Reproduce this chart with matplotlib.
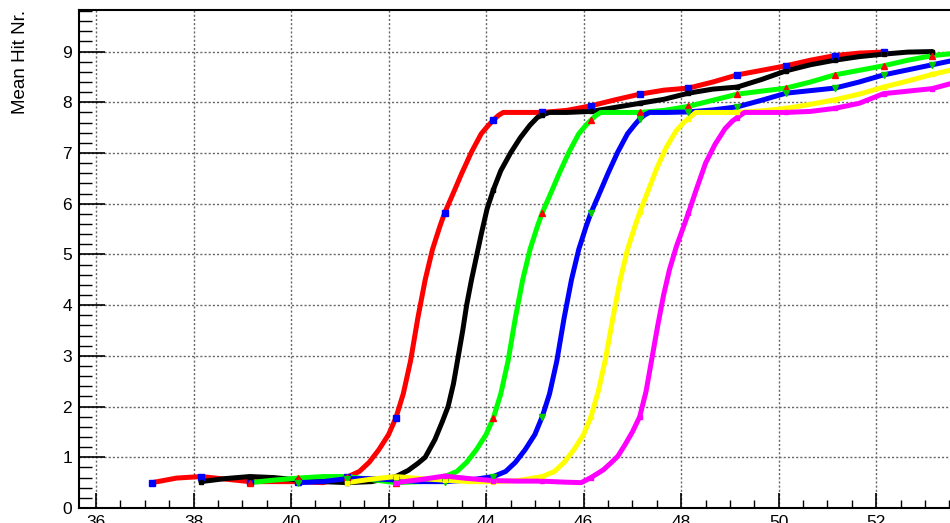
import numpy as np
import matplotlib
matplotlib.use("Agg")
import matplotlib.pyplot as plt
from matplotlib.ticker import MultipleLocator

plt.rcParams['font.family'] = ['Liberation Sans', 'DejaVu Sans']

# --- curve data (x, mean hit number) ---
red_x = [37.15, 37.65, 38.15, 38.65, 39.15, 39.65, 40.15, 40.65, 41.15, 41.4, 41.6, 41.8,
         42.0, 42.15, 42.3, 42.45, 42.6, 42.75, 42.9, 43.05, 43.15, 43.3, 43.5, 43.7,
         43.9, 44.05, 44.15, 44.25, 44.35, 44.7, 45.15, 45.65, 46.15, 46.65, 47.15, 47.65,
         48.15, 48.65, 49.15, 49.65, 50.15, 50.65, 51.15, 51.65, 52.15]
red_y = [0.50, 0.59, 0.62, 0.57, 0.52, 0.52, 0.52, 0.50, 0.61, 0.72, 0.90, 1.15,
         1.45, 1.78, 2.25, 2.9, 3.75, 4.5, 5.1, 5.55, 5.82, 6.15, 6.6, 7.02,
         7.38, 7.55, 7.65, 7.74, 7.8, 7.8, 7.8, 7.84, 7.93, 8.05, 8.16, 8.24,
         8.28, 8.4, 8.54, 8.63, 8.72, 8.83, 8.92, 8.97, 8.99]

black_x = [38.15, 38.65, 39.15, 39.65, 40.15, 40.65, 41.15, 41.65, 42.15, 42.4, 42.6, 42.75,
           42.95, 43.1, 43.22, 43.33, 43.43, 43.52, 43.6, 43.7, 43.8, 43.9, 44.02, 44.15,
           44.3, 44.5, 44.7, 44.9, 45.05, 45.15, 45.3, 45.65, 46.15, 46.65, 47.15, 47.65,
           48.15, 48.65, 49.15, 49.65, 50.15, 50.65, 51.15, 51.65, 52.15, 52.65, 53.15]
black_y = [0.52, 0.58, 0.62, 0.60, 0.55, 0.52, 0.50, 0.52, 0.62, 0.74, 0.88, 1.0,
           1.35, 1.7, 2.0, 2.45, 3.0, 3.5, 4.0, 4.5, 4.95, 5.4, 5.9, 6.28,
           6.65, 7.0, 7.3, 7.55, 7.7, 7.75, 7.8, 7.8, 7.82, 7.9, 7.98, 8.06,
           8.18, 8.26, 8.3, 8.45, 8.62, 8.74, 8.83, 8.9, 8.95, 8.99, 9.0]

green_x = [39.15, 39.65, 40.15, 40.65, 41.15, 41.65, 42.15, 42.65, 43.15, 43.4, 43.6, 43.8,
           44.0, 44.15, 44.3, 44.45, 44.6, 44.75, 44.9, 45.05, 45.15, 45.3, 45.5, 45.7,
           45.9, 46.05, 46.15, 46.25, 46.35, 46.7, 47.15, 47.65, 48.15, 48.65, 49.15, 49.65,
           50.15, 50.65, 51.15, 51.65, 52.15, 52.65, 53.15, 53.65, 54.15]
green_y = [0.50, 0.55, 0.59, 0.62, 0.62, 0.56, 0.50, 0.52, 0.62, 0.72, 0.90, 1.15,
           1.45, 1.78, 2.25, 2.9, 3.75, 4.5, 5.1, 5.55, 5.82, 6.15, 6.6, 7.02,
           7.38, 7.55, 7.65, 7.74, 7.8, 7.8, 7.8, 7.84, 7.92, 8.04, 8.16, 8.22,
           8.28, 8.4, 8.54, 8.63, 8.72, 8.83, 8.92, 8.97, 8.99]

blue_x = [40.15, 40.65, 41.15, 41.65, 42.15, 42.65, 43.15, 43.65, 44.15, 44.4, 44.6, 44.8,
          45.0, 45.15, 45.3, 45.45, 45.6, 45.75, 45.9, 46.05, 46.15, 46.3, 46.5, 46.7,
          46.9, 47.05, 47.15, 47.25, 47.35, 47.7, 48.15, 48.65, 49.15, 49.65, 50.15, 50.65,
          51.15, 51.65, 52.15, 52.65, 53.15, 53.65]
blue_y = [0.50, 0.52, 0.58, 0.58, 0.55, 0.52, 0.52, 0.55, 0.62, 0.72, 0.90, 1.15,
          1.45, 1.8, 2.25, 2.9, 3.75, 4.5, 5.1, 5.55, 5.82, 6.15, 6.6, 7.02,
          7.38, 7.56, 7.67, 7.75, 7.8, 7.8, 7.81, 7.85, 7.91, 8.04, 8.18, 8.23,
          8.28, 8.4, 8.54, 8.64, 8.74, 8.84]

yellow_x = [41.15, 41.65, 42.15, 42.65, 43.15, 43.65, 44.15, 44.65, 45.15, 45.4, 45.6, 45.8,
            46.0, 46.15, 46.3, 46.45, 46.6, 46.75, 46.9, 47.05, 47.15, 47.3, 47.5, 47.7,
            47.9, 48.05, 48.15, 48.3, 48.7, 49.15, 49.65, 50.15, 50.65, 51.15, 51.65, 52.15,
            52.65, 53.15, 53.65]
yellow_y = [0.50, 0.57, 0.62, 0.58, 0.55, 0.52, 0.52, 0.54, 0.62, 0.72, 0.90, 1.15,
            1.45, 1.8, 2.3, 2.95, 3.75, 4.5, 5.1, 5.55, 5.83, 6.2, 6.7, 7.12,
            7.44, 7.6, 7.68, 7.8, 7.8, 7.8, 7.83, 7.88, 7.96, 8.05, 8.16, 8.3,
            8.42, 8.55, 8.66]

magenta_x = [42.15, 42.65, 43.15, 43.65, 44.15, 44.65, 45.15, 45.6, 45.95, 46.15, 46.4, 46.55,
             46.7, 46.85, 47.0, 47.15, 47.28, 47.4, 47.52, 47.64, 47.76, 47.9, 48.05, 48.15,
             48.3, 48.5, 48.7, 48.9, 49.05, 49.15, 49.3, 49.7, 50.15, 50.65, 51.15, 51.65,
             52.15, 52.65, 53.15, 53.65]
magenta_y = [0.50, 0.56, 0.63, 0.58, 0.54, 0.53, 0.53, 0.51, 0.50, 0.60, 0.75, 0.88,
             1.02, 1.25, 1.5, 1.8, 2.3, 2.95, 3.6, 4.2, 4.7, 5.15, 5.55, 5.82,
             6.25, 6.8, 7.18, 7.48, 7.63, 7.7, 7.8, 7.8, 7.8, 7.82, 7.88, 7.98,
             8.17, 8.22, 8.27, 8.4]

curves = [
    (red_x, red_y, "red", "s", "blue", 4.5),
    (black_x, black_y, "black", "s", "black", 3.0),
    (green_x, green_y, "#00ff00", "^", "red", 4.5),
    (blue_x, blue_y, "blue", "v", "#00cc00", 4.5),
    (yellow_x, yellow_y, "yellow", "s", "yellow", 3.0),
    (magenta_x, magenta_y, "magenta", "s", "magenta", 3.0),
]

fig = plt.figure(figsize=(9.5, 5.23), dpi=100)
ax = fig.add_axes([79 / 950, 15 / 523, 0.93, 498 / 523])

for x, y, col, mk, mcol, ms in curves:
    ax.plot(x, y, color=col, lw=3.6, solid_capstyle="round",
            solid_joinstyle="round", zorder=3)

# markers on the whole-step points of every curve
for x, y, col, mk, mcol, ms in curves:
    x = np.array(x)
    y = np.array(y)
    on_step = np.isclose(np.mod(x - x[0] + 0.5, 1.0), 0.5, atol=0.03)
    ax.plot(x[on_step], y[on_step], ls="none", marker=mk, ms=ms,
            mfc=mcol, mec=mcol, zorder=4)

ax.set_xlim(35.65, 53.77)
ax.set_ylim(0, 9.82)

ax.xaxis.set_major_locator(MultipleLocator(2))
ax.xaxis.set_minor_locator(MultipleLocator(0.5))
ax.yaxis.set_major_locator(MultipleLocator(1))
ax.yaxis.set_minor_locator(MultipleLocator(0.2))

ax.tick_params(axis="both", which="both", direction="in", labelsize=12.5, color="black")
ax.tick_params(axis="y", which="major", length=19, width=1.2, pad=5)
ax.tick_params(axis="y", which="minor", length=9.5, width=1.0)
ax.tick_params(axis="x", which="major", length=11, width=1.2, pad=5)
ax.tick_params(axis="x", which="minor", length=5.5, width=1.0)

ax.grid(True, which="major", color="0.4", lw=1.0, ls=(0, (1.5, 1.5)), zorder=1)

for s in ax.spines.values():
    s.set_linewidth(1.5)

ax.set_ylabel("Mean Hit Nr.", fontsize=13.5)
ax.yaxis.set_label_coords(-58 / 883, 1.0)
ax.yaxis.label.set_horizontalalignment("right")
ax.yaxis.label.set_verticalalignment("center")

fig.savefig("out.png", dpi=100)
